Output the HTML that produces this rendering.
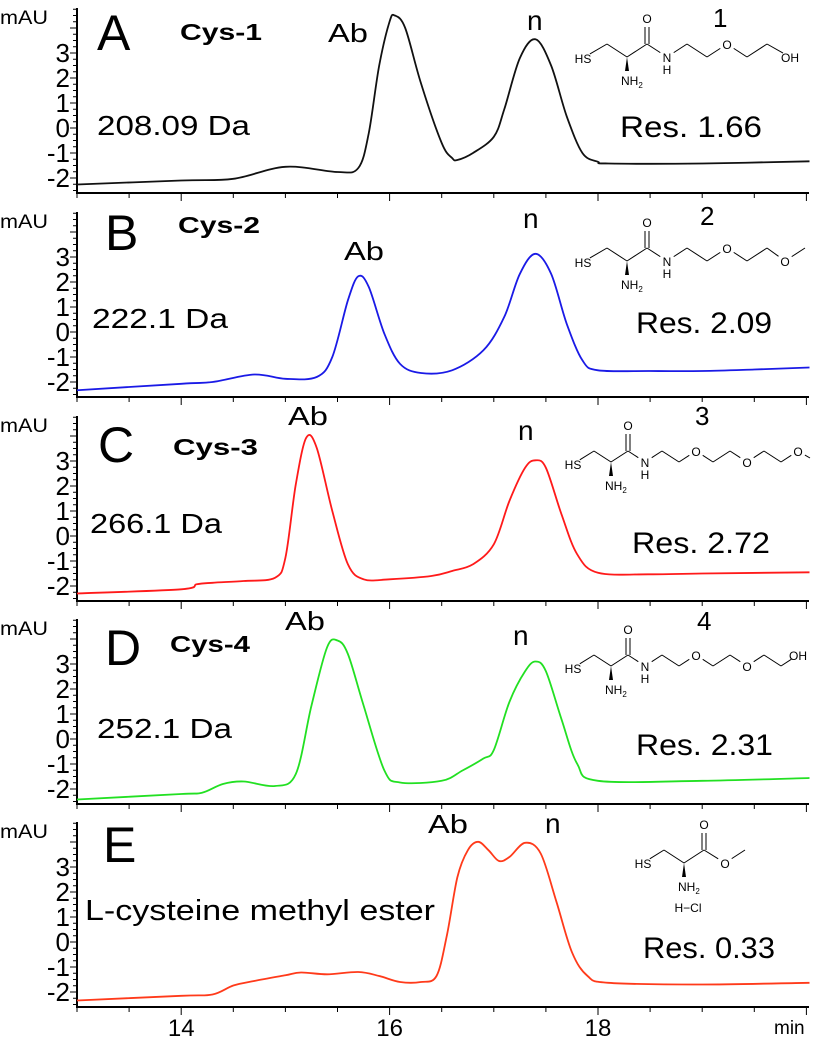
<!DOCTYPE html>
<html><head><meta charset="utf-8"><style>
html,body{margin:0;padding:0;background:#fff}
svg{display:block}
text{font-family:"Liberation Sans",sans-serif;fill:#000}
</style></head><body>
<svg id="chart" width="813" height="1040" viewBox="0 0 813 1040" xmlns="http://www.w3.org/2000/svg"></svg>
<script>
const xTickLabels=["14","16","18"];
const yTickLabels=["-2","-1","0","1","2","3"];
const panelLetters=["A","B","C","D","E"];
const compoundNames=["Cys-1","Cys-2","Cys-3","Cys-4","L-cysteine methyl ester"];
const massLabels=["208.09 Da","222.1 Da","266.1 Da","252.1 Da",""];
const resLabels=["Res. 1.66","Res. 2.09","Res. 2.72","Res. 2.31","Res. 0.33"];
const colors=["#111","#1a1ae6","#ff1a1a","#22e022","#ff3a1a"];
const timesA=[13,14,14.5,15,15.5,15.7,15.8,15.9,16,16.05,16.15,16.3,16.5,16.6,16.65,16.8,17,17.1,17.25,17.4,17.55,17.7,17.85,18,18.1,19,20.03];
const valuesA=[-2.26,-2.1,-2.03,-1.55,-1.76,-1.6,-0.2,2.5,4.26,4.5,4.0,1.8,-0.6,-1.2,-1.28,-1.0,-0.35,0.74,2.8,3.55,2.5,0.47,-1.0,-1.35,-1.42,-1.42,-1.33];
const timesB=[13,14,14.3,14.7,15,15.3,15.45,15.6,15.7,15.8,15.95,16.1,16.3,16.6,16.9,17.1,17.25,17.4,17.55,17.7,17.85,18,18.5,19,19.5,20.03];
const valuesB=[-2.33,-2.07,-2,-1.7,-1.87,-1.8,-1.0,1.27,2.23,1.8,-0.07,-1.27,-1.64,-1.53,-0.73,0.6,2.33,3.13,2.33,0.33,-1.13,-1.53,-1.56,-1.56,-1.5,-1.42];
const timesC=[13,14,14.15,14.3,14.6,14.9,15,15.1,15.2,15.3,15.45,15.6,15.75,16,16.4,16.6,16.8,17,17.15,17.3,17.4,17.5,17.65,17.8,18,18.5,19,20.03];
const valuesC=[-2.3,-2.13,-1.93,-1.87,-1.8,-1.67,-0.87,2.07,3.93,3.53,1.0,-1.13,-1.73,-1.73,-1.6,-1.4,-1.13,-0.33,1.4,2.73,3.03,2.73,0.87,-0.73,-1.47,-1.53,-1.5,-1.45];
const timesD=[13,14,14.2,14.4,14.6,14.9,15.1,15.25,15.4,15.5,15.6,15.75,15.95,16.1,16.5,16.7,16.9,17,17.15,17.3,17.4,17.5,17.65,17.8,18,19,20.03];
const valuesD=[-2.42,-2.2,-2.15,-1.8,-1.7,-1.88,-1.4,1.34,3.67,3.94,3.4,1.34,-1.26,-1.74,-1.67,-1.26,-0.78,-0.44,1.48,2.71,3.1,2.71,0.79,-0.99,-1.67,-1.67,-1.56];
const timesE=[13,14,14.3,14.5,14.7,15,15.15,15.4,15.7,15.9,16.1,16.3,16.45,16.55,16.65,16.75,16.85,16.95,17.05,17.15,17.3,17.45,17.6,17.75,17.9,18.1,19,20.03];
const valuesE=[-2.34,-2.15,-2.1,-1.74,-1.56,-1.33,-1.22,-1.29,-1.2,-1.36,-1.6,-1.6,-1.36,0.27,2.58,3.67,4.01,3.67,3.24,3.4,3.97,3.54,1.63,-0.41,-1.36,-1.63,-1.7,-1.63];
const seriesTimes=[timesA,timesB,timesC,timesD,timesE];
const seriesValues=[valuesA,valuesB,valuesC,valuesD,valuesE];

const NS="http://www.w3.org/2000/svg";
const svg=document.getElementById("chart");
const bottoms=[193,397,601,804,1007];
const X0=77,X1=809,T0=13,PPM=104.2;
function xs(t){return X0+(t-T0)*PPM;}
function ys(i,v){return bottoms[i]-65-v*25;}
function mk(tag,attrs,parent){const e=document.createElementNS(NS,tag);for(const k in attrs)e.setAttribute(k,attrs[k]);(parent||svg).appendChild(e);return e;}
function txt(s,x,y,size,opts,parent){const e=mk("text",Object.assign({x:x,y:y,"font-size":size},opts||{}),parent);e.textContent=s;return e;}

const structs=[
 {num:"1",nx:713,ny:27,nodes:[[583,58,"HS"],[607,44],[627,57],[647,44],[667,57,"N"],[687,44],[707,57],[727,44,"O"],[747,57],[767,44],[790,57,"OH"]],co:[647,44],nh2:[627,57]},
 {num:"2",nx:700,ny:225,nodes:[[583,262,"HS"],[607,248],[627,261],[647,248],[667,261,"N"],[687,248],[707,261],[727,248,"O"],[747,261],[767,248],[785,261,"O"],[805,248]],co:[647,248],nh2:[627,261]},
 {num:"3",nx:695,ny:425,nodes:[[573,464,"HS"],[594,451],[611,462],[628,451],[645,462,"N"],[662,451],[679,462],[696,451,"O"],[713,462],[730,451],[747,462,"O"],[764,451],[781,462],[798,451,"O"],[810,458]],co:[628,451],nh2:[611,462]},
 {num:"4",nx:697,ny:630,nodes:[[573,668,"HS"],[594,655],[611,666],[628,655],[645,666,"N"],[662,655],[679,666],[696,655,"O"],[713,666],[730,655],[747,666,"O"],[764,655],[781,666],[798,655,"OH"]],co:[628,655],nh2:[611,666]},
 {num:"",nx:0,ny:0,nodes:[[643,863,"HS"],[664,850],[684,863],[704,850],[725,863,"O"],[745,850]],co:[704,850],nh2:[684,863]}
];
const letterPos=[[97,50],[105,250],[98,462],[105,665],[103,862]];
const namePos=[[180,40,82],[178,233,82],[173,455,85],[170,652,80],[85,920,350]];
const massPos=[[97,135,153],[92,328,136],[90,533,132],[97,738,135]];
const resPos=[[620,137,142],[636,333,136],[632,553,138],[636,755,137],[643,958,132]];
const abPos=[[328,42],[344,260],[288,425],[285,630],[428,833]];
const nPos=[[527,30],[523,228],[518,440],[513,645],[545,833]];

for(let i=0;i<5;i++){
  const g=mk("g",{});
  
  
  const b=bottoms[i];
  const ax=mk("path",{d:`M${X0},${b-185} L${X0},${b} L${X1},${b}`,stroke:"#000","stroke-width":2,fill:"none"},g);
  
  
  for(let v=-2.5;v<=4.76;v+=0.25){
    const y=ys(i,v);
    if(y>b-1||y<b-185)continue;
    const major=Math.abs(v-Math.round(v))<1e-6;
    mk("line",{x1:X0-(major?7:4),x2:X0,y1:y,y2:y,stroke:"#000","stroke-width":1},g);
  }
  for(let k=0;k<yTickLabels.length;k++){
    const v=parseFloat(yTickLabels[k]);
    const t=txt(yTickLabels[k],70,ys(i,v)+9,26,{"text-anchor":"end"},g);
    
    
  }
  const mau=txt("mAU",0,bottoms[i]-169,19,{textLength:48,lengthAdjust:"spacingAndGlyphs"},g);
  
  
  for(let t=13;t<=20.01;t+=0.5){
    const major=Math.abs(t-Math.round(t))<1e-6&&Math.round(t)%2===0;
    mk("line",{x1:xs(t),x2:xs(t),y1:b,y2:b+(major?8:5),stroke:"#000","stroke-width":1},g);
  }
  const T=seriesTimes[i],V=seriesValues[i];
  const P=T.map((t,k)=>[xs(t),ys(i,V[k])]);
  let d=`M${P[0][0]},${P[0][1]}`;
  for(let k=0;k<P.length-1;k++){
    const p0=P[Math.max(0,k-1)],p1=P[k],p2=P[k+1],p3=P[Math.min(P.length-1,k+2)];
    const c1=[p1[0]+(p2[0]-p0[0])/6,p1[1]+(p2[1]-p0[1])/6];
    const c2=[p2[0]-(p3[0]-p1[0])/6,p2[1]-(p3[1]-p1[1])/6];
    d+=` C${c1[0].toFixed(1)},${c1[1].toFixed(1)} ${c2[0].toFixed(1)},${c2[1].toFixed(1)} ${p2[0].toFixed(1)},${p2[1].toFixed(1)}`;
  }
  const line=mk("path",{d:d,stroke:colors[i],"stroke-width":1.8,fill:"none","stroke-linejoin":"round"},g);
  
  
  const L=txt(panelLetters[i],letterPos[i][0],letterPos[i][1],50,{},g);
  
  
  const nm=txt(compoundNames[i],namePos[i][0],namePos[i][1],i<4?23:29,{"font-weight":i<4?"bold":"normal",textLength:namePos[i][2],lengthAdjust:"spacingAndGlyphs"},g);
  
  
  if(massLabels[i]){
    const m=txt(massLabels[i],massPos[i][0],massPos[i][1],28,{textLength:massPos[i][2],lengthAdjust:"spacingAndGlyphs"},g);
    
    
  }
  const r=txt(resLabels[i],resPos[i][0],resPos[i][1],30,{textLength:resPos[i][2],lengthAdjust:"spacingAndGlyphs"},g);
  
  
  const ab=txt("Ab",abPos[i][0],abPos[i][1],26,{textLength:40,lengthAdjust:"spacingAndGlyphs"},g);
  
  
  const n=txt("n",nPos[i][0],nPos[i][1],28,{},g);
  
  
  const s=structs[i];
  const sg=mk("g",{},g);
  
  
  if(s.num){txt(s.num,s.nx,s.ny,26,{},sg);}
  for(let k=0;k<s.nodes.length-1;k++){
    const a=s.nodes[k],c=s.nodes[k+1];
    const dx=c[0]-a[0],dy=c[1]-a[1],len=Math.hypot(dx,dy);
    const sa=a[2]?8/len:0,sc=c[2]?8/len:0;
    mk("line",{x1:a[0]+dx*sa,y1:a[1]+dy*sa,x2:c[0]-dx*sc,y2:c[1]-dy*sc,stroke:"#000","stroke-width":1},sg);
  }
  s.nodes.forEach(nd=>{if(nd[2])txt(nd[2],nd[0],nd[1]+5,12,{"text-anchor":"middle"},sg);});
  mk("line",{x1:s.co[0]-2,y1:s.co[1],x2:s.co[0]-2,y2:s.co[1]-17,stroke:"#000","stroke-width":1},sg);
  mk("line",{x1:s.co[0]+2,y1:s.co[1],x2:s.co[0]+2,y2:s.co[1]-17,stroke:"#000","stroke-width":1},sg);
  txt("O",s.co[0],s.co[1]-21,12,{"text-anchor":"middle"},sg);
  mk("polygon",{points:`${s.nh2[0]},${s.nh2[1]} ${s.nh2[0]-2},${s.nh2[1]+14} ${s.nh2[0]+2},${s.nh2[1]+14}`,fill:"#000"},sg);
  const nh=txt("NH",s.nh2[0]-6,s.nh2[1]+28,12,{},sg);
  const sub=mk("tspan",{"font-size":8,dy:3},nh);sub.textContent="2";
  if(i<4){const nn=s.nodes.find(q=>q[2]==="N");txt("H",nn[0],nn[1]+17,12,{"text-anchor":"middle"},sg);}
  else{txt("H−Cl",688,912,12,{"text-anchor":"middle"},sg);}
}
for(let k=0;k<xTickLabels.length;k++){
  const t=txt(xTickLabels[k],xs(parseFloat(xTickLabels[k])),1036,24,{"text-anchor":"middle"});
  
  
}
const mn=txt("min",774,1034,19,{});


</script>
</body></html>
